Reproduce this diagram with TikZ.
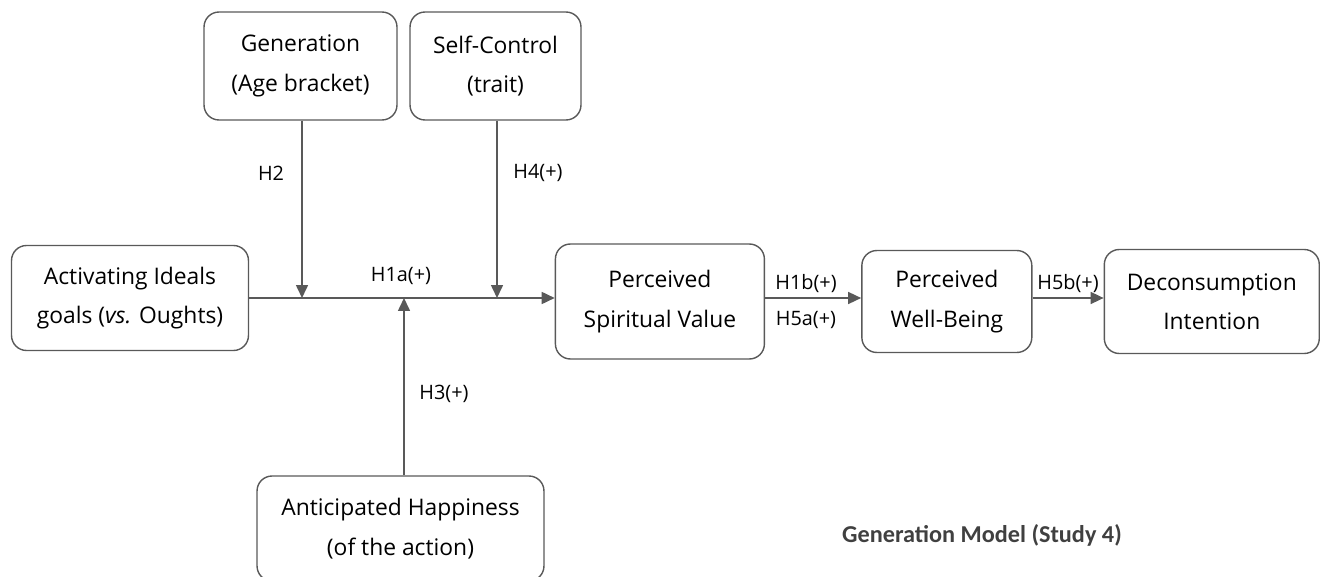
\documentclass[tikz,border=0pt]{standalone}
\usepackage{fontspec}
\setmainfont{Open Sans}
\newfontfamily\capfont{Carlito}
\usetikzlibrary{positioning,arrows.meta}
\definecolor{linegray}{HTML}{595959}
\definecolor{textgray}{HTML}{404040}

\begin{document}
\begin{tikzpicture}[x=0.02cm,y=-0.02cm,node distance=2cm,on grid,
  construct/.style={draw=linegray,line width=0.8pt,rounded corners=0.3cm,align=center,
    font=\fontsize{13}{22.5}\selectfont,inner sep=0pt},
  hyp/.style={font=\fontsize{11.3}{13}\selectfont},
  link/.style={draw=linegray,line width=0.9pt,-{Triangle[length=0.26cm,width=0.24cm]}}]
  \useasboundingbox (0,0) rectangle (1324,577);
  \node[construct,minimum width=4.74cm,minimum height=2.1cm] (act) at (130,298)
    {Activating Ideals\\goals (\textit{vs.} Oughts)};
  \node[construct,minimum width=4.18cm,minimum height=2.3cm,yshift=-0.07cm] (spv) [right=10.6cm of act] {Perceived\\Spiritual Value};
  \node[construct,minimum width=3.4cm,minimum height=2.04cm] (pwb) [right=5.74cm of spv] {Perceived\\Well-Being};
  \node[construct,minimum width=4.3cm,minimum height=2.08cm] (dec) [right=5.3cm of pwb] {Deconsumption\\Intention};
  \node[construct,minimum width=3.86cm,minimum height=2.16cm] (gen) at (300.5,66) {Generation\\(Age bracket)};
  \node[construct,minimum width=3.42cm,minimum height=2.16cm] (self) at (495.5,66) {Self-Control\\(trait)};
  \node[construct,minimum width=5.74cm,minimum height=2.1cm] (ant) at (400.5,528.5) {Anticipated Happiness\\(of the action)};
  \coordinate (m0) at (556,298);
  \coordinate (m1) at (302,298);
  \coordinate (m2) at (497,298);
  \coordinate (m3) at (404,298);
  % paths
  \draw[link] (act.east) -- (m0 -| spv.west);
  \draw[link] (gen.south -| m1) -- (m1);
  \draw[link] (self.south -| m2) -- (m2);
  \draw[link] (ant.north -| m3) -- (m3);
  \draw[link] (spv.east |- m0) -- (m0 -| pwb.west);
  \draw[link] (pwb.east |- m0) -- (m0 -| dec.west);
  % hypotheses
  \node[hyp] (h2) at (271,173) {H2};
  \node[hyp] (h4) at (538,173) {H4(+)};
  \node[hyp] (h1a) at (401,276) {H1a(+)};
  \node[hyp] (h3) at (444,394) {H3(+)};
  \node[hyp] (h1b) at (806,284) {H1b(+)};
  \node[hyp] (h5a) at (806,320) {H5a(+)};
  \node[hyp] (h5b) at (1068,284) {H5b(+)};
  \node[text=textgray,font=\capfont\bfseries\fontsize{13.8}{16}\selectfont] (title) at (982,535) {Generation Model (Study 4)};
\end{tikzpicture}
\end{document}
